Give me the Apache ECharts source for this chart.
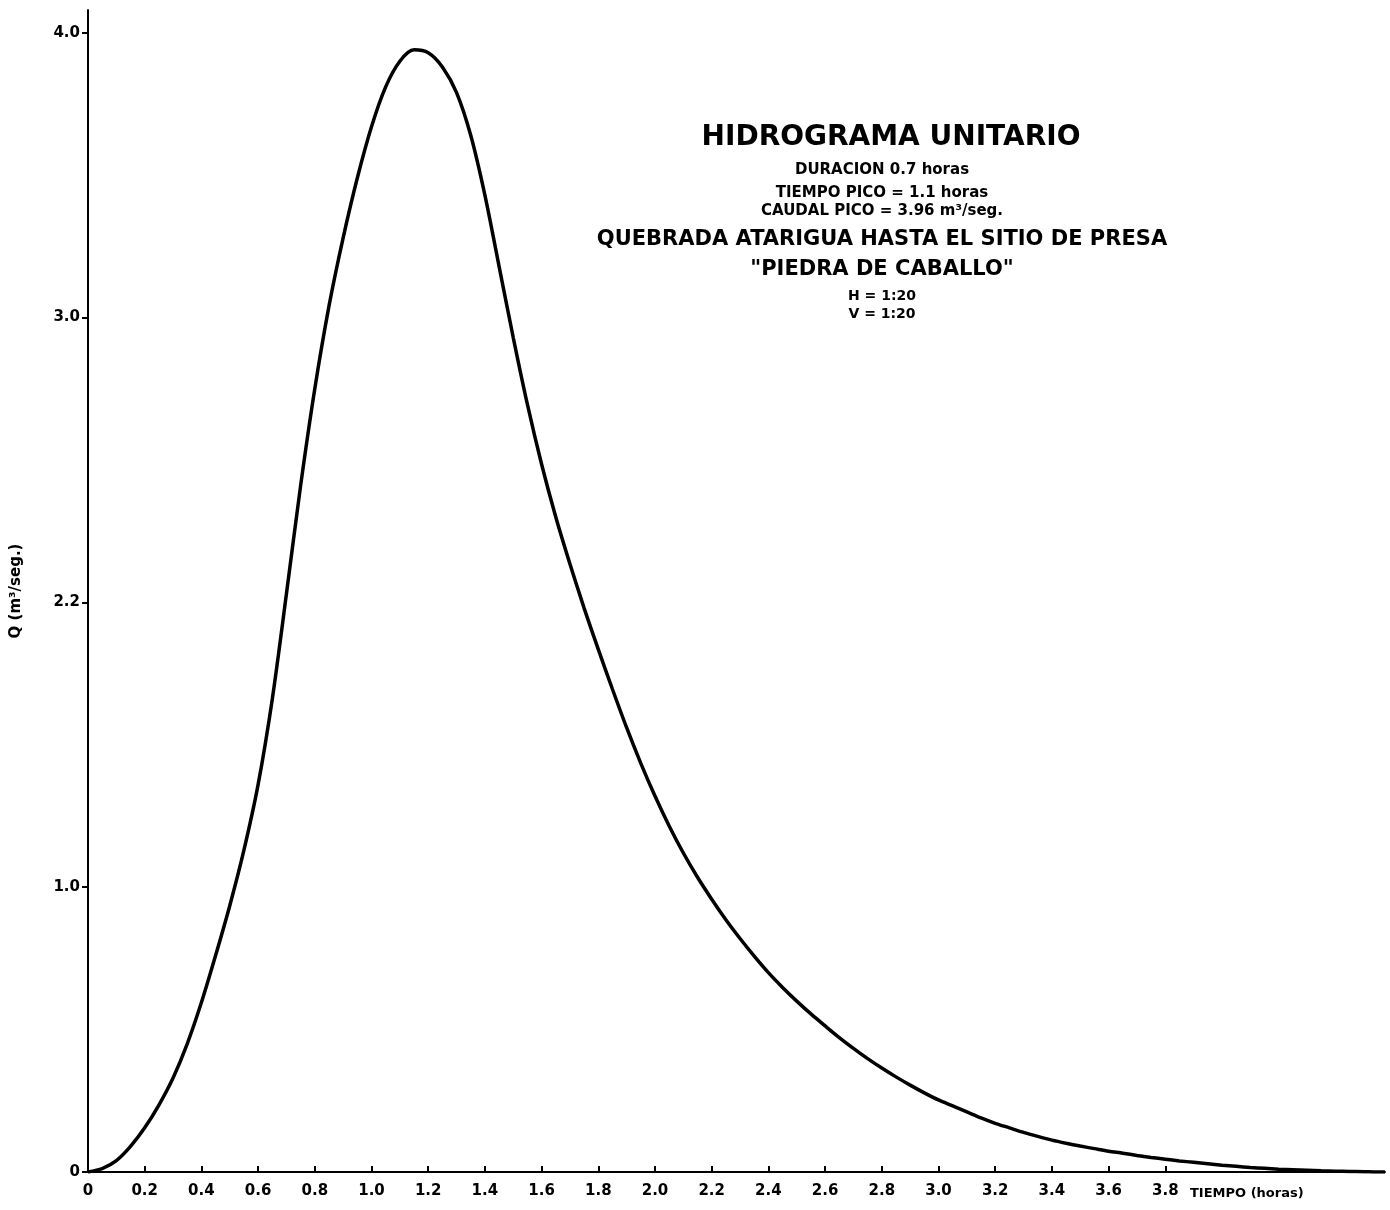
<!DOCTYPE html>
<html>
<head>
<meta charset="utf-8">
<title>Hidrograma unitario</title>
<script src="https://cdn.jsdelivr.net/npm/echarts@6/dist/echarts.min.js"></script>
<style>
  html, body { margin: 0; padding: 0; background: #fff; }
  #chart { width: 1390px; height: 1210px; }
</style>
</head>
<body>
<div id="chart"></div>
<script>
// tiempo (horas) and caudal (m3/seg)
var tiempo = [0, 0.05, 0.1, 0.15, 0.2, 0.25, 0.3, 0.35, 0.4, 0.45, 0.5, 0.55, 0.6, 0.65, 0.7, 0.75,
  0.8, 0.85, 0.9, 0.95, 1.0, 1.05, 1.1, 1.15, 1.2, 1.25, 1.3, 1.35, 1.4, 1.45, 1.5, 1.55,
  1.6, 1.65, 1.7, 1.75, 1.8, 1.85, 1.9, 1.95, 2.0, 2.05, 2.1, 2.15, 2.2, 2.25, 2.3, 2.35,
  2.4, 2.45, 2.5, 2.55, 2.6, 2.65, 2.7, 2.75, 2.8, 2.85, 2.9, 2.95, 3.0, 3.05, 3.1, 3.15,
  3.2, 3.25, 3.3, 3.35, 3.4, 3.45, 3.5, 3.55, 3.6, 3.65, 3.7, 3.75, 3.8, 3.85, 3.9, 3.95,
  4.0, 4.05, 4.1, 4.15, 4.2, 4.25, 4.3, 4.35, 4.4, 4.45, 4.5, 4.55, 4.575]
var caudal = [0, 0.012, 0.04, 0.09, 0.155, 0.235, 0.33, 0.45, 0.595, 0.76, 0.935, 1.13, 1.36, 1.66, 2.03, 2.41,
  2.75, 3.04, 3.28, 3.49, 3.67, 3.81, 3.90, 3.94, 3.93, 3.88, 3.79, 3.64, 3.43, 3.18, 2.93, 2.695,
  2.485, 2.30, 2.135, 1.98, 1.835, 1.695, 1.56, 1.435, 1.32, 1.215, 1.12, 1.035, 0.958, 0.886, 0.82, 0.758,
  0.70, 0.648, 0.60, 0.555, 0.513, 0.472, 0.434, 0.398, 0.365, 0.334, 0.305, 0.278, 0.253, 0.232, 0.211, 0.19,
  0.171, 0.155, 0.139, 0.125, 0.112, 0.101, 0.091, 0.082, 0.073, 0.066, 0.058, 0.051, 0.045, 0.039, 0.034, 0.029,
  0.024, 0.020, 0.016, 0.013, 0.010, 0.008, 0.006, 0.004, 0.003, 0.002, 0.001, 0, 0]

var xTicks = [0, 0.2, 0.4, 0.6, 0.8, 1.0, 1.2, 1.4, 1.6, 1.8, 2.0, 2.2, 2.4, 2.6, 2.8, 3.0, 3.2, 3.4, 3.6, 3.8]
var yTicks = [0, 1, 2, 3, 4]
var yLabels = ['0', '1.0', '2.2', '3.0', '4.0']  // the drawing labels 2.0 as "2.2"

var textLines = [
  { text: 'HIDROGRAMA UNITARIO', y: 138, size: 28 },
  { text: 'DURACION 0.7 horas', y: 170, size: 15 },
  { text: 'TIEMPO PICO = 1.1 horas', y: 193, size: 15 },
  { text: 'CAUDAL PICO = 3.96 m³/seg.', y: 211, size: 15 },
  { text: 'QUEBRADA ATARIGUA HASTA EL SITIO DE PRESA', y: 240, size: 21 },
  { text: '"PIEDRA DE CABALLO"', y: 270, size: 21 },
  { text: 'H = 1:20', y: 296, size: 14 },
  { text: 'V = 1:20', y: 314, size: 14 }
]

var font = 'DejaVu Sans'
var chart = echarts.init(document.getElementById('chart'))

var graphics = [{
  type: 'text',
  x: 1190, y: 1194,
  style: {
    text: 'TIEMPO (horas)',
    font: 'bold 13px "' + font + '"',
    fill: '#000',
    verticalAlign: 'middle'
  }
}]
textLines.forEach(function (l, i) {
  graphics.push({
    type: 'text',
    x: i === 0 ? 891 : 882, y: l.y,
    style: {
      text: l.text,
      font: 'bold ' + l.size + 'px "' + font + '"',
      fill: '#000',
      align: 'center',
      verticalAlign: 'middle'
    }
  })
})

chart.setOption({
  animation: false,
  backgroundColor: '#fff',
  grid: { left: 88, right: 5, top: 10, bottom: 38 },
  xAxis: {
    type: 'value',
    min: 0,
    max: 4.575,
    splitLine: { show: false },
    axisLine: { lineStyle: { color: '#000', width: 2 } },
    axisTick: { inside: true, length: 6, customValues: xTicks, lineStyle: { color: '#000', width: 2 } },
    axisLabel: {
      customValues: xTicks,
      margin: 12,
      color: '#000',
      fontFamily: font,
      fontWeight: 'bold',
      fontSize: 15,
      formatter: function (v) { return v === 0 ? '0' : v.toFixed(1) }
    }
  },
  yAxis: {
    type: 'value',
    min: 0,
    max: 4.08,
    name: 'Q (m³/seg.)',
    nameLocation: 'middle',
    nameGap: 64,
    nameTextStyle: { color: '#000', fontFamily: font, fontWeight: 'bold', fontSize: 15 },
    splitLine: { show: false },
    axisLine: { lineStyle: { color: '#000', width: 2 } },
    axisTick: { length: 6, customValues: yTicks, lineStyle: { color: '#000', width: 2 } },
    axisLabel: {
      customValues: yTicks,
      margin: 8,
      color: '#000',
      fontFamily: font,
      fontWeight: 'bold',
      fontSize: 15,
      formatter: function (v) { return yLabels[yTicks.indexOf(v)] }
    }
  },
  series: [{
    type: 'line',
    smooth: 0.3,
    symbol: 'none',
    lineStyle: { color: '#000', width: 3.5 },
    data: tiempo.map(function (t, i) { return [t, caudal[i]] })
  }],
  graphic: graphics
})
</script>
</body>
</html>
